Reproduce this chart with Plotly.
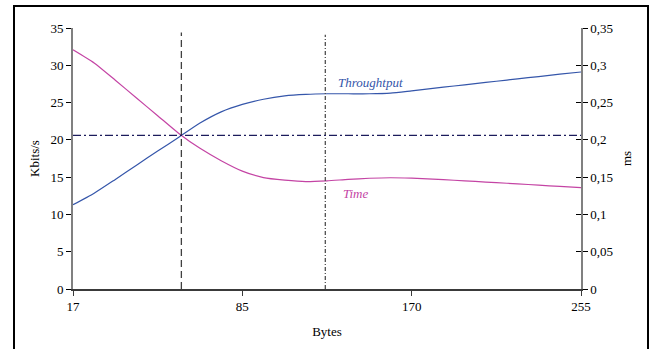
import plotly.graph_objects as go

# Sample positions along the (category-like) Bytes axis
byte_tick_labels = ["17", "85", "170", "255"]
byte_tick_positions = [0, 8, 16, 24]

# Throughput (Kbits/s)
throughput = [11.3, 12.85, 14.7, 16.6, 18.5, 20.35, 22.25, 23.75, 24.75, 25.45, 25.9, 26.1,
              26.18, 26.18, 26.18, 26.27, 26.58, 26.9, 27.22, 27.53, 27.86, 28.18, 28.49, 28.81, 29.1]
# Time (ms)
time_ms = [0.3208, 0.3031, 0.2799, 0.2561, 0.2324, 0.2086, 0.1886, 0.1721, 0.1581, 0.1494, 0.1460,
           0.1440, 0.1450, 0.1470, 0.1485, 0.1492, 0.1486, 0.1474, 0.1458, 0.1442, 0.1426, 0.141,
           0.1392, 0.1376, 0.136]
positions = list(range(len(throughput)))

# Reference lines
crossover_position = 5.12
crossover_level = 20.6
plateau_position = 11.92
ref_top = 34.4

left_ticks = [0, 5, 10, 15, 20, 25, 30, 35]
right_tickvals = [0, 0.05, 0.1, 0.15, 0.2, 0.25, 0.3, 0.35]
right_ticktext = ["0", "0,05", "0,1", "0,15", "0,2", "0,25", "0,3", "0,35"]

BLUE = "#3556AA"
PINK = "#C444A4"
FONT = "Liberation Serif"
TICKFONT = dict(family=FONT, size=13, color="black")

fig = go.Figure()
fig.add_trace(go.Scatter(x=positions, y=throughput, mode="lines", name="Throughtput",
                         line=dict(color=BLUE, width=1.2, shape="spline", smoothing=0.6)))
fig.add_trace(go.Scatter(x=positions, y=time_ms, mode="lines", name="Time", yaxis="y2",
                         line=dict(color=PINK, width=1.2, shape="spline", smoothing=0.6)))
# invisible trace for cross-tick third axis
fig.add_trace(go.Scatter(x=[positions[0]], y=[0], mode="markers", yaxis="y3",
                         marker=dict(opacity=0), showlegend=False, hoverinfo="skip"))

fig.add_shape(type="line", xref="x", yref="y", x0=crossover_position, x1=crossover_position,
              y0=0, y1=ref_top, line=dict(color="#404040", width=1.3, dash="7px,4px"))
fig.add_shape(type="line", xref="x", yref="y", x0=plateau_position, x1=plateau_position,
              y0=0, y1=ref_top - 0.3, line=dict(color="#505050", width=1.3, dash="4px,2px,1px,2px"))
fig.add_shape(type="line", xref="x", yref="y", x0=positions[0], x1=positions[-1],
              y0=crossover_level, y1=crossover_level,
              line=dict(color="#1C1C5C", width=1.3, dash="8px,3px,2px,3px"))

fig.add_annotation(x=14.04, y=27.65, xref="x", yref="y", text="<i>Throughtput</i>", showarrow=False,
                   font=dict(family=FONT, size=13, color=BLUE))
fig.add_annotation(x=13.38, y=12.75, xref="x", yref="y", text="<i>Time</i>", showarrow=False,
                   font=dict(family=FONT, size=13, color=PINK))

fig.update_layout(
    width=651, height=349,
    margin=dict(l=73, r=70, t=28, b=60),
    paper_bgcolor="white", plot_bgcolor="white",
    showlegend=False,
    font=dict(family=FONT, size=13, color="black"),
    xaxis=dict(range=[positions[0], positions[-1]], tickvals=byte_tick_positions,
               ticktext=byte_tick_labels, showgrid=False, zeroline=False, tickfont=TICKFONT,
               showline=True, linecolor="#3a3a3a", linewidth=1.5,
               ticks="outside", ticklen=5, tickcolor="#3a3a3a", tickwidth=1,
               title=dict(text="Bytes", standoff=14, font=dict(family=FONT, size=13))),
    yaxis=dict(range=[0, 35], tickvals=left_ticks, showgrid=False, zeroline=False,
               tickfont=TICKFONT,
               showline=True, linecolor="#808080", linewidth=2,
               ticks="outside", ticklen=5, tickcolor="black", tickwidth=1,
               title=dict(text="Kbits/s", standoff=8, font=dict(family=FONT, size=13))),
    yaxis2=dict(range=[0, 0.35], tickvals=right_tickvals, ticktext=right_ticktext,
                overlaying="y", side="right", showgrid=False, zeroline=False,
                tickfont=TICKFONT,
                showline=True, linecolor="#808080", linewidth=1.5,
                ticks="outside", ticklen=5, tickcolor="black", tickwidth=1,
                title=dict(text="ms", standoff=10, font=dict(family=FONT, size=13))),
    yaxis3=dict(range=[0, 0.35], tickvals=right_tickvals, overlaying="y", side="right",
                showgrid=False, zeroline=False, showline=False, showticklabels=False,
                ticks="inside", ticklen=5, tickcolor="black", tickwidth=1),
)

frame_js = (
    "document.body.style.margin='0';"
    "var f=document.createElement('div');"
    "f.style.cssText='position:absolute;left:13px;top:5px;width:636px;height:420px;"
    "border:2px solid black;box-sizing:border-box;pointer-events:none;';"
    "document.body.appendChild(f);"
)
fig.write_html("out.html", config={"displayModeBar": False}, post_script=frame_js)
